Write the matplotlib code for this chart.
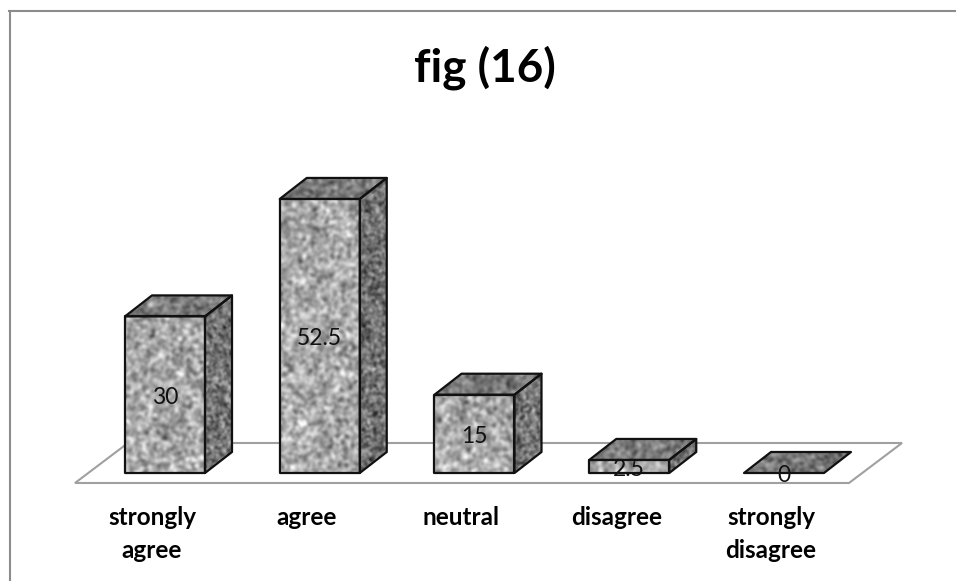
import matplotlib
matplotlib.use('Agg')
import matplotlib.pyplot as plt
from matplotlib.patches import Polygon
from matplotlib.lines import Line2D
import numpy as np

categories = ['strongly\nagree', 'agree', 'neutral', 'disagree', 'strongly\ndisagree']
values = [30, 52.5, 15, 2.5, 0]
value_labels = ['30', '52.5', '15', '2.5', '0']
title = 'fig (16)'

W, H = 956, 581
step_px = 154.75
unit_px = 5.22
x0_px, y0_px = 165, 473

bar_w = 80 / step_px
dx = 27 / step_px
dy = 21 / unit_px

plt.rcParams['font.family'] = ['Lato', 'DejaVu Sans']

fig = plt.figure(figsize=(W / 100, H / 100), dpi=100)
ax = fig.add_axes([0, 0, 1, 1])
ax.set_xlim(-x0_px / step_px, (W - x0_px) / step_px)
ax.set_ylim(-(H - y0_px) / unit_px, y0_px / unit_px)
ax.axis('off')

# chart frame, runs off the right and bottom of the picture
fig.add_artist(Line2D([9.5 / W, 9.5 / W], [0, 1 - 11 / H], color='#8c8c8c', lw=1.5))
fig.add_artist(Line2D([9 / W, 1], [1 - 11 / H, 1 - 11 / H], color='#8c8c8c', lw=1.5))

# floor
fl_l = (75 - x0_px) / step_px
fl_r = (849 - x0_px) / step_px
fl_b = -10 / unit_px
fl_dx = 53 / step_px
fl_dy = 40 / unit_px
ax.add_patch(Polygon([(fl_l, fl_b), (fl_r, fl_b), (fl_r + fl_dx, fl_b + fl_dy), (fl_l + fl_dx, fl_b + fl_dy)],
                     closed=True, fc='white', ec='#a0a0a0', lw=1.5, zorder=1))

# mottled fill, only a texture, the bar sizes come from values
rng = np.random.default_rng(16)


def mottle(rows, cols, sigma):
    fx = np.fft.fftfreq(cols)[None, :]
    fy = np.fft.fftfreq(rows)[:, None]
    noise = rng.standard_normal((rows, cols))
    soft = np.fft.ifft2(np.fft.fft2(noise) * np.exp(-2 * (np.pi * sigma) ** 2 * (fx ** 2 + fy ** 2))).real
    return soft / soft.std()


def textured(points, mean, spread, sigma, zorder):
    poly = Polygon(points, closed=True, fc='none', ec='#111111', lw=1.6, joinstyle='round', zorder=zorder + 0.1)
    ax.add_patch(poly)
    xs = [p[0] for p in points]
    ys = [p[1] for p in points]
    cols = max(int((max(xs) - min(xs)) * step_px), 2)
    rows = max(int((max(ys) - min(ys)) * unit_px), 2)
    img = ax.imshow(np.clip(mean + spread * mottle(rows, cols, sigma), 0, 255), cmap='gray', vmin=0, vmax=255,
                    extent=(min(xs), max(xs), min(ys), max(ys)), aspect='auto', interpolation='bilinear', zorder=zorder)
    clip = Polygon(points, closed=True, transform=ax.transData)
    img.set_clip_path(clip)


for i, v in enumerate(values):
    l = i - bar_w / 2
    r = i + bar_w / 2
    z = 2 + i
    if v > 0:
        textured([(l, 0), (r, 0), (r, v), (l, v)], 170, 23, 1.7, z)
        textured([(r, 0), (r + dx, dy), (r + dx, v + dy), (r, v)], 115, 22, 1.3, z)
    textured([(l, v), (r, v), (r + dx, v + dy), (l + dx, v + dy)], 122, 17, 1.6, z)
    ax.text(i, v / 2 - 3 / unit_px, value_labels[i], ha='center', va='center', fontsize=16.5,
            color='#111111', zorder=20)
    ax.text(i - 13 / step_px, -(506 - y0_px) / unit_px, categories[i], ha='center', va='top', fontsize=17.5,
            fontweight='bold', linespacing=1.55, color='black', zorder=20)

ax.text((485 - x0_px) / step_px, (y0_px - 68) / unit_px, title, ha='center', va='center', fontsize=33,
        fontweight='bold', color='black')

fig.savefig('out.png', dpi=100, facecolor='white')
